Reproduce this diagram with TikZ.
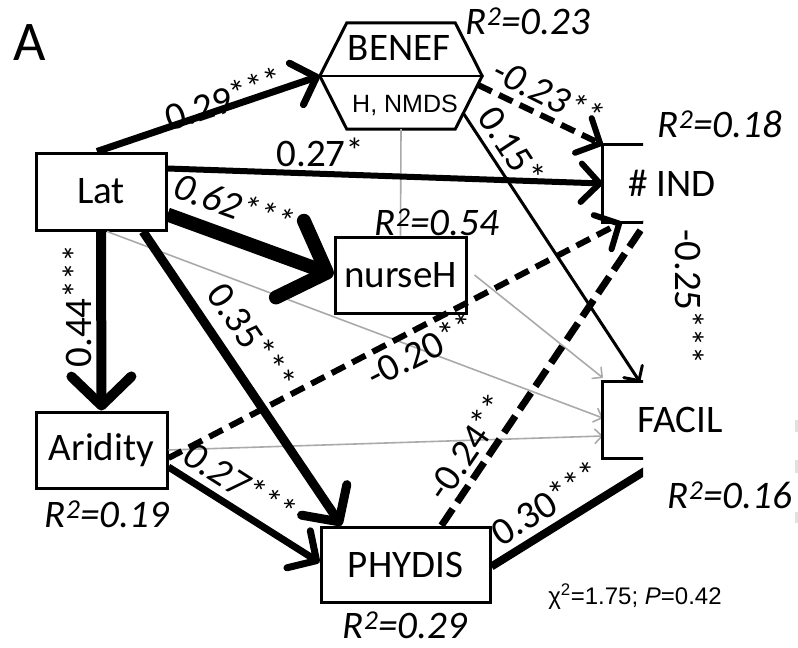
\documentclass[tikz,border=0pt]{standalone}
\usepackage{fontspec}
\setmainfont{Carlito}
\newfontfamily\arialf{Liberation Sans}
\usetikzlibrary{arrows.meta,calc}
\definecolor{lg}{RGB}{170,170,170}
\definecolor{edgemarkcol}{RGB}{225,225,225}
\newcommand\sigstars[1]{\raisebox{3pt}{\fontsize{36}{36}\selectfont#1}}
\begin{document}
\begin{tikzpicture}[x=1pt,y=-1pt,
  every node/.style={font=\fontsize{39}{44}\selectfont, inner sep=0pt},
  box/.style={draw, line width=3pt},
  ghost/.style={draw=none},
  arr/.style={-{Straight Barb[round,length=3pt 2.6,width=6pt 5.4]}},
  grayarr/.style={lg, line width=1.6pt, -{Straight Barb[round,length=3pt 2.6,width=6pt 5.2]}},
  dash1/.style={dash pattern=on 15pt off 8pt},
  dash2/.style={dash pattern=on 20pt off 8pt},
  it/.style={font=\fontsize{39}{44}\selectfont\itshape},
  rsq/.style={font=\fontsize{39}{44}\selectfont\itshape},
]
\useasboundingbox (0,0) rectangle (798,648);

% ---------- nodes ----------
\node[box, minimum width=130pt, minimum height=77pt] (lat) at (101,191.5) {Lat};
\node[ghost, minimum width=162pt, minimum height=106pt] (benef) at (401,76) {};
\node[box, minimum width=131pt, minimum height=76pt] (nurse) at (400.5,275) {nurseH};
\node[box, minimum width=131pt, minimum height=76pt] (arid) at (101.5,450) {Aridity};
\node[box, minimum width=169pt, minimum height=75pt] (phy) at (405.5,564.5) {PHYDIS};
\node[ghost, minimum width=138pt, minimum height=77pt] (ind) at (672,183.5) {\# IND};
\node[ghost, minimum width=154pt, minimum height=76pt] (facil) at (680,420) {FACIL};

% BENEF hexagon
\draw[line width=3pt, line join=miter]
  (benef.west) -- ($(benef.north west)+(27,0)$) -- ($(benef.north east)+(-27,0)$)
  -- (benef.east) -- ($(benef.south east)+(-27,0)$) -- ($(benef.south west)+(27,0)$) -- cycle;
\draw[line width=1.6pt] (benef.west) -- (benef.east);
\node (beneft) at (399,48) {BENEF};
\node[font=\arialf\fontsize{25}{29}\selectfont] (benefs) at (405,105) {H, NMDS};

% ---------- gray paths ----------
\draw[lg, line width=1.6pt] (benef.south) -- (nurse.north);
\draw[grayarr] ($(lat.south)+(6,0)$) -- ($(facil.west)+(0,-2)$);
\draw[grayarr] ($(nurse.east)+(7,0)$) -- ($(facil.north west)+(0,-4)$);
\draw[grayarr] (arid.east) -- ($(facil.west)+(0,16)$);

% ---------- black paths ----------
\draw[arr, line width=7pt] ($(lat.north)+(-4,0)$) -- (benef.west);
\draw[arr, line width=6pt] ($(lat.east)+(0,-23)$) -- (ind.west);
\draw[arr, line width=14pt] ($(lat.south east)+(0,-17)$) -- (nurse.west);
\draw[arr, line width=10pt] (lat.south) -- (arid.north);
\draw[arr, line width=9pt] ($(lat.south)+(42,0)$) -- ($(phy.north west)+(22,0)$);
\draw[arr, dash1, line width=6pt] ($(benef.east)+(-4,9)$) -- (ind.north west);
\draw[arr, line width=3pt] ($(benef.east)+(-19,37)$) -- ($(facil.north west)+(37,0)$);
\draw[arr, dash1, line width=6pt] ($(arid.east)+(0,8)$) -- ($(ind.south west)+(19,0)$);
\draw[arr, line width=7pt] ($(arid.east)+(0,17)$) -- ($(phy.west)+(0,-2)$);

% ---------- clipped right part ----------
\begin{scope}
  \clip (0,0) rectangle (643,648);
  \draw[line width=3pt] (ind.north west) rectangle (ind.south east);
  \draw[line width=3pt] (facil.north west) rectangle (facil.south east);
  \draw[dash2, line width=7pt] ($(phy.north east)+(-50,0)$) -- ($(ind.south west)+(50,-10)$);
  \draw[line width=8pt] ($(phy.east)+(0,2)$) -- ($(facil.south)+(0,-9)$);
\end{scope}

% ---------- coefficients ----------
\node[rotate=18.6] (c1) at (224,99) {0.29\sigstars{***}};
\node (c2) at (320,152) {0.27\sigstars{*}};
\node[it, rotate=-20] (c3) at (234,204) {0.62\sigstars{***}};
\node[rotate=90] (c4) at (77,306) {0.44\sigstars{***}};
\node[rotate=-55.6] (c5) at (252,337) {0.35\sigstars{***}};
\node[it, rotate=-27] (c6) at (548,93) {-0.23\sigstars{**}};
\node[rotate=-56.5] (c7) at (512,146) {0.15\sigstars{*}};
\node[rotate=27] (c8) at (421,350) {-0.20\sigstars{**}};
\node[rotate=55.5] (c9) at (467,447) {-0.24\sigstars{**}};
\node[rotate=31.6] (c10) at (546,503) {0.30\sigstars{***}};
\node[it, rotate=-32.6] (c11) at (240,483) {0.27\sigstars{***}};
\node[rotate=-90] (c12) at (690,297) {-0.25\sigstars{***}};

% ---------- R squared ----------
\node[rsq] (r1) at (528,21) {R\textsuperscript{2}=0.23};
\node[rsq] (r2) at (720,124) {R\textsuperscript{2}=0.18};
\node[rsq] (r3) at (437,222) {R\textsuperscript{2}=0.54};
\node[rsq] (r4) at (107,514) {R\textsuperscript{2}=0.19};
\node[rsq] (r5) at (405,625) {R\textsuperscript{2}=0.29};
\node[rsq] (r6) at (730,495) {R\textsuperscript{2}=0.16};

% ---------- misc ----------
\node[font=\fontsize{56}{60}\selectfont] (panel) at (30,43) {A};
\node[font=\arialf\fontsize{24}{28}\selectfont] (fit) at (635,597) {χ\textsuperscript{2}=1.75; \textit{P}=0.42};

\draw[edgemarkcol, line width=3pt] (796.5,420) -- (796.5,432);
\draw[edgemarkcol, line width=3pt] (796.5,460) -- (796.5,473);
\draw[edgemarkcol, line width=3pt] (796.5,512) -- (796.5,523);
\end{tikzpicture}
\end{document}
